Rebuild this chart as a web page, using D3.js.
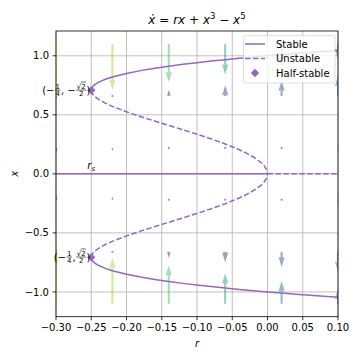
<!DOCTYPE html>
<html><head><meta charset="utf-8">
<script src="https://cdn.jsdelivr.net/npm/d3@7"></script>
<style>body{margin:0;background:#fff} svg{display:block} text{font-family:"DejaVu Sans",sans-serif;fill:#000}</style>
</head><body><svg id="c" width="360" height="360"></svg>
<script>
// ---- data ----
const rTicks = [-0.30,-0.25,-0.20,-0.15,-0.10,-0.05,0.00,0.05,0.10];
const xTicks = [-1.0,-0.5,0.0,0.5,1.0];
// outer (stable) branch, upper half; lower half is the mirror
const stableR = [-0.25,-0.2495,-0.249,-0.2475,-0.245,-0.24,-0.23,-0.22,-0.20,-0.18,-0.16,-0.14,-0.12,-0.10,-0.08,-0.06,-0.04,-0.02,0.00,0.02,0.04,0.06,0.08,0.10];
const stableX = [0.7071,0.7227,0.7291,0.7416,0.7555,0.7746,0.8009,0.8205,0.8507,0.8744,0.8944,0.9120,0.9277,0.9420,0.9551,0.9674,0.9789,0.9897,1.0000,1.0098,1.0191,1.0280,1.0366,1.0448];
// inner (unstable) branch, upper half
const unstableR = [-0.25,-0.2495,-0.249,-0.2475,-0.245,-0.24,-0.23,-0.22,-0.20,-0.18,-0.16,-0.14,-0.12,-0.10,-0.08,-0.06,-0.04,-0.03,-0.02,-0.01,-0.005,-0.001,0.00];
const unstableX = [0.7071,0.6911,0.6844,0.6708,0.6552,0.6325,0.5988,0.5717,0.5257,0.4852,0.4472,0.4103,0.3734,0.3357,0.2962,0.2532,0.2043,0.1760,0.1428,0.1005,0.0709,0.0316,0.0];
const zeroStableR = [-0.30, 0.00];
const zeroUnstableR = [0.00, 0.10];
const halfStableR = [-0.25, -0.25];
const halfStableX = [0.7071, -0.7071];
// vector field samples
const quiverR = [-0.30,-0.22,-0.14,-0.06,0.02,0.10];
const quiverX = [-1.1,-0.66,-0.22,0.22,0.66,1.1];
const quiverDX = [
  [ 0.60951, 0.52151, 0.43351, 0.34551, 0.25751, 0.16951],
  [ 0.035737,-0.017063,-0.069863,-0.122663,-0.175463,-0.228263],
  [ 0.055867, 0.038267, 0.020667, 0.003067,-0.014533,-0.032133],
  [-0.055867,-0.038267,-0.020667,-0.003067, 0.014533, 0.032133],
  [-0.035737, 0.017063, 0.069863, 0.122663, 0.175463, 0.228263],
  [-0.60951,-0.52151,-0.43351,-0.34551,-0.25751,-0.16951]
];
const legendLabels = ["Stable","Unstable","Half-stable"];

// ---- layout ----
const L=56, R=338, T=31, B=316.7;
const purple = "#9467bd";
const svg = d3.select("#c");
const xs = d3.scaleLinear().domain([-0.30,0.10]).range([L,R]);
const ys = d3.scaleLinear().domain([-1.21,1.21]).range([B,T]);
const lenScale = d3.scaleLinear().domain([0,1]).range([0,88]);
const mags = quiverDX.flat().map(Math.abs);
const color = d3.scaleSequential(d3.interpolateViridis).domain([d3.min(mags), d3.max(mags)]);

svg.append("defs").append("clipPath").attr("id","clip")
  .append("rect").attr("x",L).attr("y",T).attr("width",R-L).attr("height",B-T);

// grid
const grid = svg.append("g").attr("stroke","#b0b0b0").attr("stroke-width",0.8);
rTicks.forEach(t=>grid.append("line").attr("x1",xs(t)).attr("x2",xs(t)).attr("y1",T).attr("y2",B));
xTicks.forEach(t=>grid.append("line").attr("y1",ys(t)).attr("y2",ys(t)).attr("x1",L).attr("x2",R));

const plot = svg.append("g").attr("clip-path","url(#clip)");

// quiver
const w = 2.1;
function arrowPath(Lw){ // in width units, pointing +x
  let s = 1, len = Lw;
  if (Lw < 5) { s = Lw/5; len = 5; }
  const p = [[0,-0.5],[len-4.5,-0.5],[len-5,-1.5],[len,0],[len-5,1.5],[len-4.5,0.5],[0,0.5]];
  return "M" + p.map(q=>[q[0]*s*w, q[1]*s*w].join(",")).join("L") + "Z";
}
quiverX.forEach((xv,i)=>{
  quiverR.forEach((rv,j)=>{
    const d = quiverDX[i][j];
    const Lpx = lenScale(Math.abs(d));
    const c = color(Math.abs(d));
    const g = plot.append("g").attr("transform",`translate(${xs(rv)},${ys(xv)}) rotate(${d>0?-90:90})`);
    if (Lpx < w) {
      g.append("circle").attr("r",w/2).attr("fill",c).attr("fill-opacity",0.5);
    } else {
      g.append("path").attr("d",arrowPath(Lpx/w)).attr("fill",c).attr("fill-opacity",0.5);
    }
  });
});

// curves
const line = d3.line().x(d=>xs(d[0])).y(d=>ys(d[1]));
const up = stableR.map((r,i)=>[r,stableX[i]]);
const lo = stableR.map((r,i)=>[r,-stableX[i]]);
const uu = unstableR.map((r,i)=>[r,unstableX[i]]);
const ul = unstableR.map((r,i)=>[r,-unstableX[i]]);
const dash = "5.55,2.4";
[[up,null],[lo,null],[zeroStableR.map(r=>[r,0]),null],[uu,dash],[ul,dash],[zeroUnstableR.map(r=>[r,0]),dash]].forEach(([pts,da])=>{
  plot.append("path").attr("d",line(pts)).attr("fill","none").attr("stroke",purple).attr("stroke-width",1.5)
    .attr("stroke-dasharray",da);
});
// half-stable markers
const diamond = (cx,cy,h)=>`M${cx},${cy-h}L${cx+h},${cy}L${cx},${cy+h}L${cx-h},${cy}Z`;
halfStableR.forEach((r,i)=>{
  svg.append("path").attr("d",diamond(xs(r),ys(halfStableX[i]),4.2)).attr("fill",purple);
});

// spines
svg.append("rect").attr("x",L).attr("y",T).attr("width",R-L).attr("height",B-T)
  .attr("fill","none").attr("stroke","#000").attr("stroke-width",0.8);

// ticks
rTicks.forEach(t=>{
  svg.append("line").attr("x1",xs(t)).attr("x2",xs(t)).attr("y1",B).attr("y2",B+3.5).attr("stroke","#000").attr("stroke-width",0.8);
  svg.append("text").attr("x",xs(t)).attr("y",B+14.3).attr("text-anchor","middle").attr("font-size",10)
    .text(t.toFixed(2).replace("-","\u2212"));
});
xTicks.forEach(t=>{
  svg.append("line").attr("x1",L-3.5).attr("x2",L).attr("y1",ys(t)).attr("y2",ys(t)).attr("stroke","#000").attr("stroke-width",0.8);
  svg.append("text").attr("x",L-7).attr("y",ys(t)+3.6).attr("text-anchor","end").attr("font-size",10)
    .text(t.toFixed(1).replace("-","\u2212"));
});

// axis labels
svg.append("text").attr("x",(L+R)/2).attr("y",346.5).attr("text-anchor","middle").attr("font-size",10)
  .attr("font-style","italic").text("r");
svg.append("text").attr("transform",`translate(17.5,${ys(0)}) rotate(-90)`).attr("text-anchor","middle")
  .attr("font-size",10).attr("font-style","italic").text("x");

// title
const tt = svg.append("text").attr("x",(L+R)/2).attr("y",23.5).attr("text-anchor","middle").attr("font-size",12);
tt.append("tspan").attr("font-style","italic").text("\u1E8B");
tt.append("tspan").text(" = ");
tt.append("tspan").attr("font-style","italic").text("rx");
tt.append("tspan").text(" + ");
tt.append("tspan").attr("font-style","italic").text("x");
tt.append("tspan").attr("font-size",8.5).attr("dy",-5).text("3");
tt.append("tspan").attr("dy",5).text(" \u2212 ");
tt.append("tspan").attr("font-style","italic").text("x");
tt.append("tspan").attr("font-size",8.5).attr("dy",-5).text("5");

// r_s label
svg.append("text").attr("x",xs(-0.2555)).attr("y",168.5).attr("font-size",10).attr("font-style","italic").text("r")
  .append("tspan").attr("font-size",7).attr("dy",2.5).text("s");

// annotations
function mathLabel(parts, xRight, a){
  const g = svg.append("g");
  let x = 0;
  parts.forEach(p=>{
    if (p.s !== undefined) {
      const t = g.append("text").attr("x",x).attr("y",a+3.5).attr("font-size",10).text(p.s);
      x += t.node().getComputedTextLength();
    } else {
      const fs = 7;
      const num = g.append("text").attr("y",a-1.5).attr("font-size",fs).attr("text-anchor","middle").text(p.num);
      const den = g.append("text").attr("y",a+6).attr("font-size",fs).attr("text-anchor","middle").text(p.den);
      const nw = num.node().getComputedTextLength(), dw = den.node().getComputedTextLength();
      const fw = Math.max(nw,dw) + 2;
      const cx = x + fw/2;
      num.attr("x",cx); den.attr("x",cx);
      g.append("line").attr("x1",x+0.5).attr("x2",x+fw-0.5).attr("y1",a).attr("y2",a).attr("stroke","#000").attr("stroke-width",0.6);
      if (p.sqrt) {
        const tmp = g.append("text").attr("font-size",fs).text("\u221A");
        const sw = tmp.node().getComputedTextLength(); tmp.remove();
        const x0 = cx - nw/2 + sw - 0.3, x1 = cx + nw/2 + 0.3;
        g.append("line").attr("x1",x0).attr("x2",x1).attr("y1",a-8).attr("y2",a-8).attr("stroke","#000").attr("stroke-width",0.6);
      }
      x += fw;
    }
  });
  g.attr("transform",`translate(${xRight - x},0)`);
}
mathLabel([{s:"(\u2212"},{num:"1",den:"4"},{s:", \u2212"},{num:"\u221A2",den:"2",sqrt:true},{s:")"}], 90.5, ys(0.7071)-0.3);
mathLabel([{s:"(\u2212"},{num:"1",den:"4"},{s:", "},{num:"\u221A2",den:"2",sqrt:true},{s:")"}], 90.5, ys(-0.7071)-0.3);

// legend
const lg = svg.append("g");
lg.append("rect").attr("x",243.5).attr("y",35.5).attr("width",91.5).attr("height",47.5).attr("rx",2)
  .attr("fill","#fff").attr("fill-opacity",0.8).attr("stroke","#ccc").attr("stroke-opacity",0.8).attr("stroke-width",0.8);
const ly = [44, 58.5, 73];
lg.append("line").attr("x1",245).attr("x2",265).attr("y1",ly[0]).attr("y2",ly[0]).attr("stroke",purple).attr("stroke-width",1.5);
lg.append("line").attr("x1",245).attr("x2",265).attr("y1",ly[1]).attr("y2",ly[1]).attr("stroke",purple).attr("stroke-width",1.5).attr("stroke-dasharray",dash);
lg.append("path").attr("d",diamond(255,ly[2],4.2)).attr("fill",purple);
legendLabels.forEach((s,i)=>lg.append("text").attr("x",276).attr("y",ly[i]+3.6).attr("font-size",10).text(s));
</script></body></html>
